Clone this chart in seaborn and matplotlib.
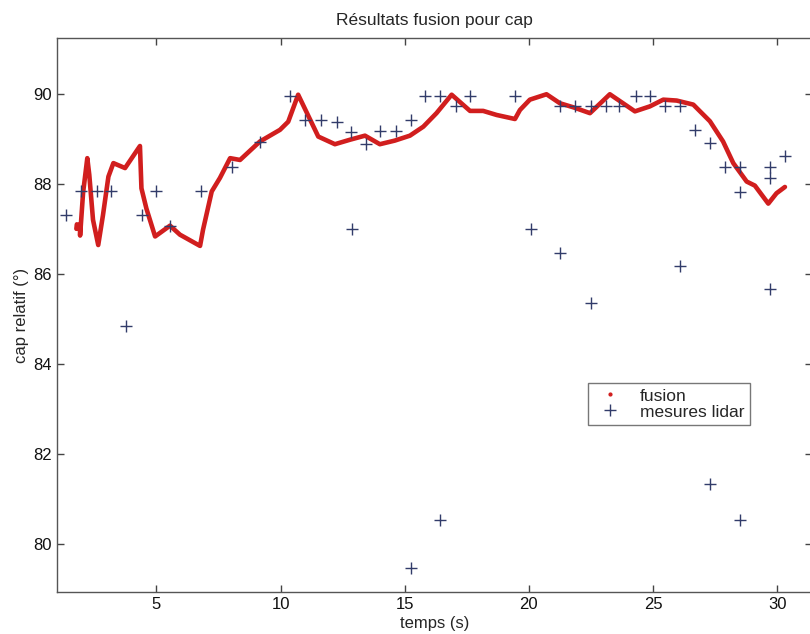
"""Résultats fusion pour cap"""

import matplotlib
matplotlib.use('Agg')
import matplotlib.pyplot as plt
from matplotlib.lines import Line2D
import seaborn as sns

# fusion curve (vertices)
fusion_t = [1.78, 1.80, 1.85, 1.92, 1.93, 2.05, 2.22, 2.30, 2.45, 2.66, 2.85,
            3.07, 3.27, 3.74, 4.34, 4.40, 4.60, 4.95, 5.55, 5.95, 6.76, 6.88,
            7.23, 7.56, 7.97, 8.37, 9.17, 9.98, 10.31, 10.71, 11.52, 12.19,
            12.80, 13.40, 14.00, 14.60, 15.21, 15.75, 16.28, 16.89, 17.63,
            18.16, 18.70, 19.44, 19.64, 20.04, 20.71, 21.25, 21.79, 22.46,
            23.26, 24.27, 24.87, 25.41, 25.95, 26.62, 27.29, 27.82, 28.23,
            28.77, 29.10, 29.64, 29.97, 30.31]
fusion_cap = [87.00, 87.10, 87.05, 87.10, 86.85, 87.80, 88.57, 88.20, 87.20,
              86.64, 87.30, 88.16, 88.46, 88.35, 88.84, 87.90, 87.45, 86.83,
              87.07, 86.87, 86.62, 86.98, 87.83, 88.13, 88.57, 88.53, 88.94,
              89.20, 89.38, 89.98, 89.05, 88.88, 88.98, 89.07, 88.88, 88.96,
              89.07, 89.27, 89.57, 89.98, 89.62, 89.62, 89.53, 89.44, 89.64,
              89.87, 89.99, 89.79, 89.70, 89.57, 89.99, 89.61, 89.72, 89.87,
              89.85, 89.76, 89.39, 88.94, 88.46, 88.05, 87.96, 87.56, 87.79,
              87.93]

# lidar measurements
lidar_t = [1.35, 1.95, 2.60, 3.17, 3.76, 4.41, 4.99, 5.55, 6.80, 8.03, 9.17,
           10.38, 10.98, 11.62, 12.26, 12.82, 12.87, 13.43, 14.00, 14.65,
           15.24, 15.24, 15.81, 16.44, 16.44, 17.05, 17.63, 19.45, 20.07,
           21.25, 21.25, 21.85, 22.49, 22.49, 23.10, 23.64, 24.30, 24.87,
           25.48, 26.08, 26.08, 26.68, 27.29, 27.29, 27.89, 28.50, 28.50,
           28.50, 29.70, 29.70, 29.70, 30.33]
lidar_cap = [87.31, 87.84, 87.84, 87.84, 84.84, 87.30, 87.84, 87.07, 87.84,
             88.38, 88.92, 89.96, 89.42, 89.42, 89.38, 89.15, 87.00, 88.89,
             89.18, 89.18, 89.42, 79.46, 89.96, 89.96, 80.53, 89.72, 89.96,
             89.96, 87.00, 89.72, 86.47, 89.72, 89.72, 85.36, 89.72, 89.72,
             89.96, 89.96, 89.72, 89.72, 86.18, 89.19, 88.90, 81.33, 88.38,
             88.38, 87.81, 80.53, 88.37, 88.13, 85.66, 88.61]

x_ticks = [5, 10, 15, 20, 25, 30]
y_ticks = [80, 82, 84, 86, 88, 90]

RED = '#d11e1e'
NAVY = '#323c6a'

sns.set_style('ticks')
plt.rcParams['font.family'] = ['Liberation Sans', 'DejaVu Sans']

fig = plt.figure(figsize=(8.1, 6.34), dpi=100)
ax = fig.add_axes([57 / 810, 1 - 592 / 634, 755 / 810, 554 / 634])

sns.lineplot(x=fusion_t, y=fusion_cap, sort=False, estimator=None,
             color=RED, linewidth=3.3, ax=ax)
sns.scatterplot(x=lidar_t, y=lidar_cap, marker='+', s=80, color=NAVY,
                linewidth=1.0, ax=ax, zorder=3)

ax.set_xlim(1, 31.4)
ax.set_ylim(78.93, 91.24)
ax.set_xticks(x_ticks)
ax.set_yticks(y_ticks)
ax.tick_params(direction='in', length=5, width=1, colors='#444444',
               labelcolor='#111111', labelsize=12, top=True, right=True)
for sp in ax.spines.values():
    sp.set_color('#555555')
    sp.set_linewidth(1.0)

ax.set_title('Résultats fusion pour cap', fontsize=12.5, pad=9)
ax.set_xlabel('temps (s)', fontsize=12, labelpad=3)
ax.set_ylabel('cap relatif (°)', fontsize=12, labelpad=3)

handles = [Line2D([], [], marker='.', markersize=4, linestyle='none', color=RED),
           Line2D([], [], marker='+', markersize=9, linestyle='none', color=NAVY,
                  markeredgewidth=1.0)]
leg = ax.legend(handles, ['fusion', 'mesures lidar'], loc='upper left',
                bbox_to_anchor=(0.703, 0.377), borderaxespad=0, fontsize=12.5,
                frameon=True, fancybox=False, handlelength=2.0,
                handletextpad=0.7, borderpad=0.3, labelspacing=0.05)
leg.get_frame().set_edgecolor('#555555')
leg.get_frame().set_linewidth(1.0)

fig.savefig('out.png', dpi=100)
